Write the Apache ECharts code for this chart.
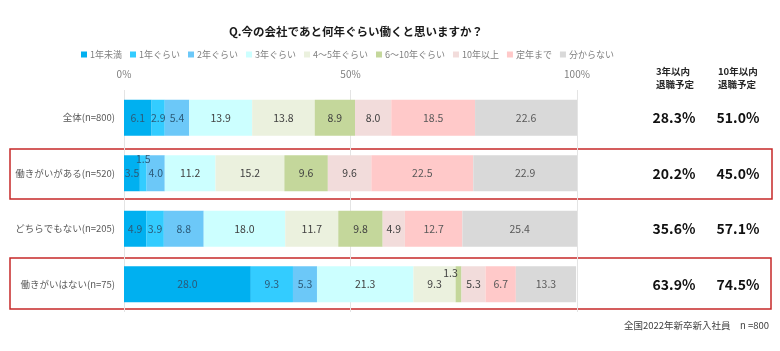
<!DOCTYPE html>
<html>
<head>
<meta charset="utf-8">
<script src="https://cdn.jsdelivr.net/npm/echarts@6/dist/echarts.min.js"></script>
<style>
  html, body { margin: 0; padding: 0; background: #fff; }
  #chart { width: 780px; height: 351px; }
</style>
</head>
<body>
<div id="chart"></div>
<script>
// 回答区分ごとの数値（%）
var groups = ['全体(n=800)', '働きがいがある(n=520)', 'どちらでもない(n=205)', '働きがいはない(n=75)']
var seriesNames = ['1年未満', '1年ぐらい', '2年ぐらい', '3年ぐらい', '4～5年ぐらい', '6～10年ぐらい', '10年以上', '定年まで', '分からない']
var lessThan1 = [6.1, 3.5, 4.9, 28.0]
var about1 = [2.9, 1.5, 3.9, 9.3]
var about2 = [5.4, 4.0, 8.8, 5.3]
var about3 = [13.9, 11.2, 18.0, 21.3]
var about4to5 = [13.8, 15.2, 11.7, 9.3]
var about6to10 = [8.9, 9.6, 9.8, 1.3]
var over10 = [8.0, 9.6, 4.9, 5.3]
var untilRetire = [18.5, 22.5, 12.7, 6.7]
var unknown = [22.6, 22.9, 25.4, 13.3]
var within3 = ['28.3', '20.2', '35.6', '63.9']
var within10 = ['51.0', '45.0', '57.1', '74.5']
var xTicks = ['0%', '50%', '100%']

var values = [lessThan1, about1, about2, about3, about4to5, about6to10, over10, untilRetire, unknown]
var colors = ['#00b0f0', '#33ccff', '#6cc8f8', '#ccffff', '#ebf1de', '#c4d79b', '#f2dcdb', '#ffc9c9', '#d9d9d9']
var labelColors = ['#2c5a78', '#2c5a78', '#2c5a78', '#404040', '#404040', '#404040', '#404040', '#595959', '#595959']
var font = 'Noto Sans CJK JP'

// 小さい値のラベルだけ位置をずらす
var labelShift = { '1-1': [0, -14], '5-3': [-8, -11] }

var series = values.map(function (arr, si) {
  return {
    name: seriesNames[si],
    type: 'bar',
    stack: 'total',
    barWidth: 36,
    itemStyle: { color: colors[si] },
    label: {
      show: true,
      position: 'inside',
      color: labelColors[si],
      fontSize: 10.5,
      fontFamily: font,
      formatter: function (p) { return p.value.toFixed(1) }
    },
    data: arr.map(function (v, ci) {
      var shift = labelShift[si + '-' + ci]
      return shift ? { value: v, label: { offset: shift } } : v
    })
  }
})

var chart = echarts.init(document.getElementById('chart'))
chart.setOption({
  animation: false,
  textStyle: { fontFamily: font },
  title: {
    text: 'Q.今の会社であと何年ぐらい働くと思いますか？',
    left: 351,
    textAlign: 'center',
    top: 21,
    textStyle: { fontSize: 11.5, fontWeight: 'bold', color: '#1a1a1a', fontFamily: font }
  },
  legend: {
    data: seriesNames,
    left: 76,
    top: 45,
    icon: 'rect',
    itemWidth: 6,
    itemHeight: 6,
    itemGap: 8,
    textStyle: { fontSize: 9, color: '#7f7f7f', fontFamily: font, padding: [0, 0, 0, -2] }
  },
  grid: { left: 124, right: 203, top: 90, height: 222 },
  xAxis: {
    type: 'value',
    position: 'top',
    min: 0,
    max: 100,
    interval: 50,
    axisLine: { show: false },
    axisTick: { show: false },
    axisLabel: {
      margin: 11,
      color: '#7f7f7f',
      fontSize: 10,
      formatter: function (v) { return xTicks[v / 50] }
    },
    splitLine: { lineStyle: { color: '#e4e4e4' } }
  },
  yAxis: [{
    type: 'category',
    inverse: true,
    data: groups,
    axisLine: { show: false },
    axisTick: { show: false },
    axisLabel: { margin: 9, color: '#595959', fontSize: 9.5 }
  }, {
    type: 'category',
    inverse: true,
    position: 'right',
    data: groups,
    axisLine: { show: false },
    axisTick: { show: false },
    axisLabel: {
      margin: 65,
      align: 'left',
      formatter: function (v, i) {
        return '{a|' + within3[i] + '%}{b|' + within10[i] + '%}'
      },
      rich: {
        a: { width: 64, align: 'center', fontSize: 14, fontWeight: 'bold', color: '#111' },
        b: { width: 64, align: 'center', fontSize: 14, fontWeight: 'bold', color: '#111' }
      }
    }
  }],
  graphic: [
    { type: 'text', left: 656, top: 65, style: { text: '3年以内\n退職予定', fill: '#262626', font: 'bold 9.5px "Noto Sans CJK JP"', align: 'center', lineHeight: 13 } },
    { type: 'text', left: 718, top: 65, style: { text: '10年以内\n退職予定', fill: '#262626', font: 'bold 9.5px "Noto Sans CJK JP"', align: 'center', lineHeight: 13 } },
    { type: 'rect', shape: { x: 10, y: 149, width: 762, height: 50 }, style: { fill: 'none', stroke: '#c62828', lineWidth: 1.5 } },
    { type: 'rect', shape: { x: 10, y: 258, width: 761, height: 51 }, style: { fill: 'none', stroke: '#c62828', lineWidth: 1.5 } },
    { type: 'text', right: 11, top: 321, style: { text: '全国2022年新卒新入社員　n =800', fill: '#404040', font: '9.5px "Noto Sans CJK JP"' } }
  ],
  series: series
})
</script>
</body>
</html>
